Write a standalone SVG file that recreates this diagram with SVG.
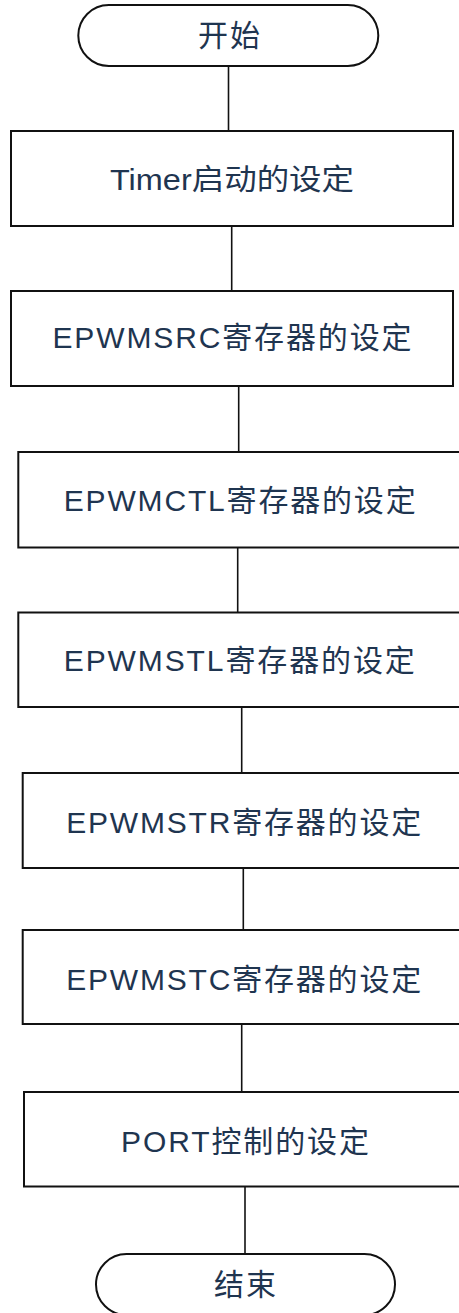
<svg xmlns="http://www.w3.org/2000/svg" width="459" height="1313" viewBox="0 0 459 1313">
<style>
.box{fill:#fff;stroke:#111;stroke-width:2}
.term{fill:#fff;stroke:#111;stroke-width:2}
.conn{stroke:#111;stroke-width:1.6;fill:none}
.t{font-family:"Liberation Sans","Noto Sans CJK SC",sans-serif;font-size:30px;fill:#1F3550;text-anchor:middle}
.s{font-size:29px}
</style>
<rect width="459" height="1313" fill="#fff"/>
<g id="connectors">
<line class="conn" x1="228.5" y1="66" x2="228.5" y2="131"/>
<line class="conn" x1="231.7" y1="226" x2="231.7" y2="291"/>
<line class="conn" x1="238.7" y1="386" x2="238.7" y2="452"/>
<line class="conn" x1="237.7" y1="547.5" x2="237.7" y2="612.5"/>
<line class="conn" x1="241.7" y1="707" x2="241.7" y2="773"/>
<line class="conn" x1="243.3" y1="868" x2="243.3" y2="930"/>
<line class="conn" x1="241.7" y1="1024" x2="241.7" y2="1092"/>
<line class="conn" x1="245" y1="1186.5" x2="245" y2="1254"/>
</g>
<g id="start">
<rect class="term" x="78.3" y="5" width="300" height="61" rx="30.5" ry="30.5"/>
<text class="t" x="229" y="46" textLength="62" lengthAdjust="spacing">开始</text>
</g>
<g id="timer">
<rect class="box" x="11" y="131" width="442" height="95"/>
<text class="t s" x="232" y="190" textLength="244" lengthAdjust="spacingAndGlyphs">Timer启动的设定</text>
</g>
<g id="epwmsrc">
<rect class="box" x="11" y="291" width="442" height="95"/>
<text class="t" x="232" y="348" textLength="359" lengthAdjust="spacing">EPWMSRC寄存器的设定</text>
</g>
<g id="epwmctl">
<rect class="box" x="18.3" y="452" width="460" height="95.5"/>
<text class="t" x="239.7" y="511" textLength="352" lengthAdjust="spacing">EPWMCTL寄存器的设定</text>
</g>
<g id="epwmstl">
<rect class="box" x="18.3" y="612.5" width="460" height="94.5"/>
<text class="t" x="239.3" y="671" textLength="351" lengthAdjust="spacing">EPWMSTL寄存器的设定</text>
</g>
<g id="epwmstr">
<rect class="box" x="22.7" y="773" width="460" height="95"/>
<text class="t" x="243.7" y="833" textLength="355" lengthAdjust="spacing">EPWMSTR寄存器的设定</text>
</g>
<g id="epwmstc">
<rect class="box" x="22.7" y="930" width="460" height="94"/>
<text class="t" x="243.7" y="990" textLength="355" lengthAdjust="spacing">EPWMSTC寄存器的设定</text>
</g>
<g id="port">
<rect class="box" x="24" y="1092" width="460" height="94.5"/>
<text class="t" x="245" y="1151.5" textLength="248" lengthAdjust="spacing">PORT控制的设定</text>
</g>
<g id="end">
<rect class="term" x="96" y="1254" width="299" height="61" rx="30.5" ry="30.5"/>
<text class="t" x="245" y="1295" textLength="62" lengthAdjust="spacing">结束</text>
</g>
</svg>
